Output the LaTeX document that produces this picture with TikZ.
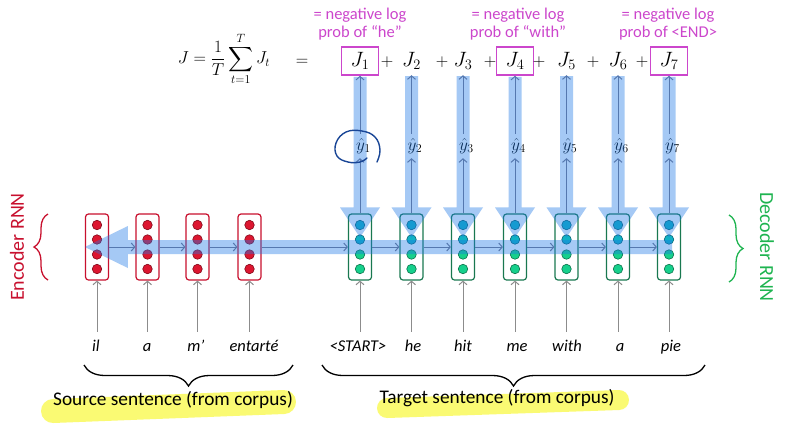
\documentclass[tikz,border=0pt]{standalone}
\usepackage{amsmath}
\usepackage{fontspec}
\setmainfont{Carlito}
\usetikzlibrary{arrows.meta,decorations.pathreplacing,calc}
\definecolor{band}{RGB}{30,120,230}
\definecolor{thinc}{RGB}{85,120,175}
\definecolor{encred}{RGB}{200,16,46}
\definecolor{encfill}{RGB}{220,22,48}
\definecolor{encdark}{RGB}{130,8,25}
\definecolor{decbox}{RGB}{25,120,80}
\definecolor{cyanc}{RGB}{16,178,196}
\definecolor{cyandark}{RGB}{10,100,115}
\definecolor{greenc}{RGB}{22,208,140}
\definecolor{greendark}{RGB}{12,115,75}
\definecolor{mag}{RGB}{204,70,204}
\definecolor{decgreen}{RGB}{30,180,80}
\definecolor{hl}{RGB}{250,250,100}
\definecolor{navy}{RGB}{25,70,150}
\definecolor{ingray}{RGB}{140,140,140}
\begin{document}
\begin{tikzpicture}[x=1pt,y=-1pt,
  cellbox/.style={draw, rounded corners=3pt, line width=1.2pt, minimum width=23pt, minimum height=66pt, inner sep=0pt, fill=white},
  enccell/.style={cellbox, draw=encred},
  deccell/.style={cellbox, draw=decbox},
  dot/.style={circle, inner sep=0pt, minimum size=9.5pt, line width=0.6pt},
  reddot/.style={dot, fill=encfill, draw=encdark},
  cyandot/.style={dot, fill=cyanc, draw=cyandark},
  greendot/.style={dot, fill=greenc, draw=greendark},
  bandfill/.style={fill=band, fill opacity=0.4},
  thinarrow/.style={draw=thinc, line width=1pt, -{Straight Barb[length=3.5pt,width=8pt]}},
  inarrow/.style={draw=ingray, line width=1pt, -{Straight Barb[length=3.5pt,width=8pt]}, shorten <=7.5pt},
  word/.style={font=\fontsize{16.5}{18}\selectfont\itshape, inner sep=0pt, text height=12pt, text depth=3pt},
  jnode/.style={font=\fontsize{21}{24}\selectfont, minimum width=37pt, minimum height=28pt, inner sep=0pt},
  jbox/.style={jnode, draw=mag, line width=1.5pt},
  plusnode/.style={font=\fontsize{19}{20}\selectfont, inner sep=0pt},
  yhat/.style={font=\fontsize{18.5}{20}\selectfont, inner sep=0pt, minimum height=24pt},
  maglabel/.style={text=mag, align=center, font=\fontsize{16.5}{18.5}\selectfont, inner sep=0pt},
  bigtext/.style={font=\fontsize{19.3}{22}\selectfont, inner sep=0pt},
  rnnlabel/.style={font=\fontsize{20}{22}\selectfont, inner sep=0pt},
  bracestyle/.style={decorate, line width=1.3pt},
  highlight/.style={draw=hl, line cap=round, opacity=0.9}
]
\fill[white] (0,0) rectangle (791,424);
\useasboundingbox (0,0) rectangle (791,424);

% encoder cells
\foreach \i/\x in {1/97,2/147.5,3/197.5,4/249.5}{
  \node[enccell] (e\i) at (\x,247) {};
  \foreach \j/\dy in {1/-22,2/-7.5,3/7.5,4/22}
    \node[reddot] (e\i-\j) at ($(e\i)+(0,\dy)$) {};
}
% decoder cells
\foreach \i/\x in {1/360,2/411.5,3/463,4/515,5/566.5,6/618,7/669}{
  \node[deccell] (d\i) at (\x,247) {};
  \node[cyandot]  (d\i-1) at ($(d\i)+(0,-22)$) {};
  \node[cyandot]  (d\i-2) at ($(d\i)+(0,-7.5)$) {};
  \node[greendot] (d\i-3) at ($(d\i)+(0,7.5)$) {};
  \node[greendot] (d\i-4) at ($(d\i)+(0,22)$) {};
}

% J row
\node[font=\fontsize{17}{20}\selectfont, inner sep=0pt] (Jf) at (224,59) {$\displaystyle J=\frac{1}{T}\sum_{t=1}^{T}J_t$};
\node[plusnode] (eq) at (302,62) {$=$};
\node[jbox]  (J1) at (360,61) {$J_1$};
\node[jnode] (J2) at (411.5,61) {$J_2$};
\node[jnode] (J3) at (463,61) {$J_3$};
\node[jbox]  (J4) at (515,61) {$J_4$};
\node[jnode] (J5) at (566.5,61) {$J_5$};
\node[jnode] (J6) at (618,61) {$J_6$};
\node[jbox]  (J7) at (669,61) {$J_7$};
\foreach \k/\x in {1/387,2/442,3/490,4/539,5/593,6/642}
  \node[plusnode] (p\k) at (\x,62) {$+$};

\node[maglabel] (m1) at (360,24) {= negative log\\prob of “he”};
\node[maglabel] (m4) at (518,24) {= negative log\\prob of “with”};
\node[maglabel] (m7) at (668,24) {= negative log\\prob of <END>};

% y hats
\foreach \i in {1,...,7}
  \node[yhat] (yh\i) at ($(d\i |- 0,146)+(3.5,0)$) {$\hat{y}_{\i}$};

% bands
\foreach \i in {1,...,7}
  \fill[bandfill] ($(J\i.south)+(-6.5,1)$) -- ($(J\i.south)+(6.5,1)$)
     -- ($(d\i.north)+(6.5,-6)$) -- ($(d\i.north)+(20,-6)$) -- ($(d\i.north)+(0,24)$)
     -- ($(d\i.north)+(-20,-6)$) -- ($(d\i.north)+(-6.5,-6)$) -- cycle;
\fill[bandfill] (e1.west) -- ($(e1.west)+(43,-21)$) -- ($(e1.west)+(43,-7)$)
     -- ($(d7)+(3,-7)$) -- ($(d7)+(3,7)$) -- ($(e1.west)+(43,7)$) -- ($(e1.west)+(43,21)$) -- cycle;

% thin arrows
\draw[thinarrow] (e1.east) -- (e2.west);
\draw[thinarrow] (e2.east) -- (e3.west);
\draw[thinarrow] (e3.east) -- (e4.west);
\draw[thinarrow] (e4.east) -- (d1.west);
\foreach \i/\n in {1/2,2/3,3/4,4/5,5/6,6/7}
  \draw[thinarrow] (d\i.east) -- (d\n.west);
\foreach \i in {1,...,7}{
  \draw[thinarrow] (d\i.north) -- (d\i.north |- yh\i.south);
  \draw[thinarrow] (d\i |- yh\i.north) -- (d\i |- J\i.south);
}

% hand-drawn circle
\draw[navy, line width=1.4pt, line cap=round] plot[smooth, tension=0.7] coordinates
  {(377,162) (380,150) (375,137) (362,131) (346,132) (336,143) (337,156) (348,162) (360,162) (367,158)};

% words
\node[word] (s1) at (96,347) {il};
\node[word] (s2) at (147,347) {a};
\node[word] (s3) at (196,347) {m’};
\node[word] (s4) at (254,347) {entarté};
\node[word] (t1) at (358,347) {<START>};
\node[word] (t2) at (413,347) {he};
\node[word] (t3) at (463,347) {hit};
\node[word] (t4) at (517,347) {me};
\node[word] (t5) at (567,347) {with};
\node[word] (t6) at (620,347) {a};
\node[word] (t7) at (671,347) {pie};
\foreach \i in {1,...,4}
  \draw[inarrow] (s\i.north -| e\i) -- (e\i.south);
\foreach \i in {1,...,7}
  \draw[inarrow] (t\i.north -| d\i) -- (d\i.south);

% braces
\coordinate (sb1) at (293,365);
\coordinate (sb2) at (84,365);
\coordinate (tb1) at (705,365);
\coordinate (tb2) at (322,365);
\draw[bracestyle, decoration={brace, amplitude=21pt}] (sb1) -- (sb2);
\draw[bracestyle, decoration={brace, amplitude=21pt}] (tb1) -- (tb2);

% highlights and sentence labels
\draw[highlight, line width=24pt] (53,411) -- (284,402);
\draw[highlight, line width=20pt] (387,408) -- (619,400);
\node[bigtext] (src) at (173,400) {Source sentence (from corpus)};
\node[bigtext] (tgt) at (497,398) {Target sentence (from corpus)};

% RNN labels
\coordinate (eb1) at (48,280);
\coordinate (eb2) at (48,214);
\draw[bracestyle, encred, decoration={brace, amplitude=14pt}] (eb1) -- (eb2);
\node[rnnlabel, text=encred, rotate=90] (enc) at (17,247) {Encoder RNN};
\coordinate (db1) at (729,215);
\coordinate (db2) at (729,282);
\draw[bracestyle, decgreen, decoration={brace, amplitude=14pt}] (db1) -- (db2);
\node[rnnlabel, text=decgreen, rotate=-90] (dec) at (767,247) {Decoder RNN};
\end{tikzpicture}
\end{document}
